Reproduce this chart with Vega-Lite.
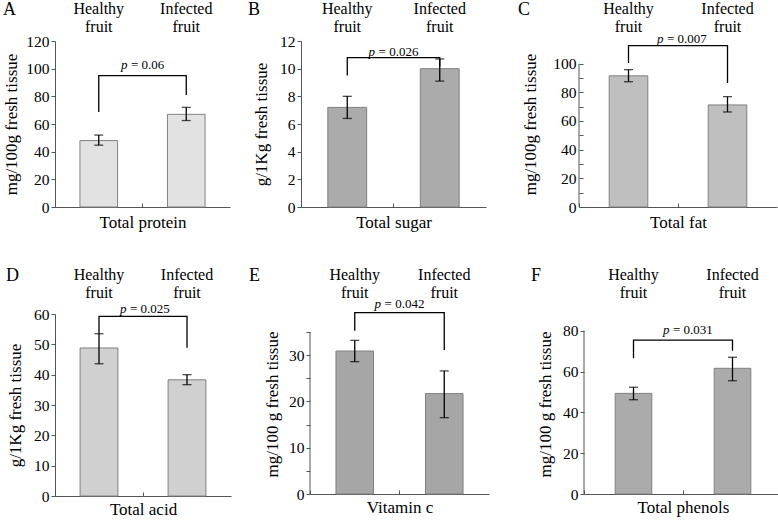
{
"$schema": "https://vega.github.io/schema/vega-lite/v6.json",
"padding": {"left": 2, "top": 0, "right": 0, "bottom": 0},
"config": {
 "font": "Liberation Serif",
 "view": {"stroke": null},
 "style": {"guide-label": {"font": "Liberation Serif"}, "guide-title": {"font": "Liberation Serif"}},
 "axis": {"domainColor": "#555", "tickColor": "#555", "labelFont": "Liberation Serif", "titleFont": "Liberation Serif", "labelFontSize": 15.5, "titleFontSize": 17, "titleFontWeight": "normal", "labelColor": "#000", "titleColor": "#000", "grid": false, "domainWidth": 1, "tickWidth": 1},
 "title": {"font": "Liberation Serif", "fontSize": 18, "fontWeight": "normal", "color": "#000"},
 "text": {"font": "Liberation Serif"}
},
"datasets": {
 "bars": [
  {"panel":"A","group":"Healthy fruit","mean":48,"lo":44.7,"hi":52},
  {"panel":"A","group":"Infected fruit","mean":67,"lo":62.5,"hi":72},
  {"panel":"B","group":"Healthy fruit","mean":7.2,"lo":6.4,"hi":8.0},
  {"panel":"B","group":"Infected fruit","mean":10.0,"lo":9.1,"hi":10.7},
  {"panel":"C","group":"Healthy fruit","mean":91.5,"lo":87.4,"hi":95.8},
  {"panel":"C","group":"Infected fruit","mean":71.2,"lo":66.3,"hi":77},
  {"panel":"D","group":"Healthy fruit","mean":48.8,"lo":43.6,"hi":53.5},
  {"panel":"D","group":"Infected fruit","mean":38.3,"lo":36.7,"hi":40},
  {"panel":"E","group":"Healthy fruit","mean":30.9,"lo":28.6,"hi":33.2},
  {"panel":"E","group":"Infected fruit","mean":21.7,"lo":16.5,"hi":26.6},
  {"panel":"F","group":"Healthy fruit","mean":49.3,"lo":46.2,"hi":52.3},
  {"panel":"F","group":"Infected fruit","mean":61.6,"lo":55.5,"hi":67}
 ],
 "axisline": [
  {"panel":"C","group":"Healthy fruit","y0":0,"y1":100},
  {"panel":"E","group":"Healthy fruit","y0":0,"y1":35},
  {"panel":"F","group":"Healthy fruit","y0":0,"y1":80}
 ],
 "brackets": [
  {"panel":"A","group":"Healthy fruit","y":68.7,"ord":1},{"panel":"A","group":"Healthy fruit","y":95,"ord":2},{"panel":"A","group":"Infected fruit","y":95,"ord":3},{"panel":"A","group":"Infected fruit","y":81,"ord":4},
  {"panel":"B","group":"Healthy fruit","y":9.5,"ord":1},{"panel":"B","group":"Healthy fruit","y":10.8,"ord":2},{"panel":"B","group":"Infected fruit","y":10.8,"ord":3},{"panel":"B","group":"Infected fruit","y":10.15,"ord":4},
  {"panel":"C","group":"Healthy fruit","y":100.5,"ord":1},{"panel":"C","group":"Healthy fruit","y":112.6,"ord":2},{"panel":"C","group":"Infected fruit","y":112.6,"ord":3},{"panel":"C","group":"Infected fruit","y":86.5,"ord":4},
  {"panel":"D","group":"Healthy fruit","y":53.5,"ord":1},{"panel":"D","group":"Healthy fruit","y":59.2,"ord":2},{"panel":"D","group":"Infected fruit","y":59.2,"ord":3},{"panel":"D","group":"Infected fruit","y":48.9,"ord":4},
  {"panel":"E","group":"Healthy fruit","y":35.3,"ord":1},{"panel":"E","group":"Healthy fruit","y":39.2,"ord":2},{"panel":"E","group":"Infected fruit","y":39.2,"ord":3},{"panel":"E","group":"Infected fruit","y":31.1,"ord":4},
  {"panel":"F","group":"Healthy fruit","y":66.5,"ord":1},{"panel":"F","group":"Healthy fruit","y":75.4,"ord":2},{"panel":"F","group":"Infected fruit","y":75.4,"ord":3},{"panel":"F","group":"Infected fruit","y":70.2,"ord":4}
 ],
 "ptext": [
  {"panel":"A","group":"Infected fruit","y":100,"label":"= 0.06"},
  {"panel":"B","group":"Infected fruit","y":10.95,"label":"= 0.026"},
  {"panel":"C","group":"Infected fruit","y":114.4,"label":"= 0.007"},
  {"panel":"D","group":"Infected fruit","y":60.3,"label":"= 0.025"},
  {"panel":"E","group":"Infected fruit","y":40.3,"label":"= 0.042"},
  {"panel":"F","group":"Infected fruit","y":78.4,"label":"= 0.031"}
 ]
},
"spacing": 35,
"vconcat": [
 {"spacing": 18, "hconcat": [
  {
   "width": 175, "height": 166,
   "title": {"text": "A", "anchor": "start", "frame": "group", "dx": -52, "offset": -19},
   "resolve": {"axis": {"x": "independent", "y": "independent"}},
   "layer": [
    {"data": {"name": "bars"}, "transform": [{"filter": "datum.panel=='A'"}],
     "mark": {"type": "bar", "width": {"band": 0.43}, "fill": "#e2e2e2", "stroke": "#808080", "strokeWidth": 1},
     "encoding": {
      "x": {"field": "group", "type": "nominal", "scale": {"domain": ["Healthy fruit","Infected fruit"], "paddingInner": 0, "paddingOuter": 0},
            "axis": {"orient": "bottom", "labels": false, "ticks": true, "tickSize": -4, "bandPosition": 0, "title": "Total protein", "titlePadding": 7}},
      "y": {"field": "mean", "type": "quantitative", "scale": {"domain": [0,120], "nice": false},
            "axis": {"values": [0,20,40,60,80,100,120], "tickSize": 4, "labelPadding": 2, "title": "mg/100g fresh tissue", "titlePadding": 5}}}},
    {"data": {"name": "bars"}, "transform": [{"filter": "datum.panel=='A'"}],
     "mark": {"type": "rule", "color": "#000", "strokeWidth": 1.3},
     "encoding": {
      "x": {"field": "group", "type": "nominal", "scale": {"domain": ["Healthy fruit","Infected fruit"], "paddingInner": 0, "paddingOuter": 0},
            "axis": {"orient": "top", "domain": false, "ticks": false, "tickSize": 0, "labelExpr": "split(datum.label,' ')", "labelFontSize": 16, "labelLineHeight": 18.5, "labelBaseline": "alphabetic", "labelPadding": 28, "labelAngle": 0, "labelOverlap": false, "title": null}},
      "y": {"field": "lo", "type": "quantitative", "scale": {"domain": [0,120], "nice": false}, "axis": null},
      "y2": {"field": "hi"}}},
    {"data": {"name": "bars"}, "transform": [{"filter": "datum.panel=='A'"}],
     "mark": {"type": "tick", "color": "#000", "size": 9, "thickness": 1.3},
     "encoding": {"x": {"field": "group", "type": "nominal", "axis": null}, "y": {"field": "lo", "type": "quantitative", "axis": null}}},
    {"data": {"name": "bars"}, "transform": [{"filter": "datum.panel=='A'"}],
     "mark": {"type": "tick", "color": "#000", "size": 9, "thickness": 1.3},
     "encoding": {"x": {"field": "group", "type": "nominal", "axis": null}, "y": {"field": "hi", "type": "quantitative", "axis": null}}},
    {"data": {"name": "brackets"}, "transform": [{"filter": "datum.panel=='A'"}],
     "mark": {"type": "line", "color": "#000", "strokeWidth": 1.3},
     "encoding": {"x": {"field": "group", "type": "nominal", "axis": null}, "y": {"field": "y", "type": "quantitative", "axis": null}, "order": {"field": "ord"}}},
    {"data": {"name": "ptext"}, "transform": [{"filter": "datum.panel=='A'"}],
     "mark": {"type": "text", "text": "p", "fontStyle": "italic", "font": "Liberation Serif", "fontSize": 13, "align": "left", "baseline": "alphabetic", "dx": -21.6},
     "encoding": {"x": {"field": "group", "type": "nominal", "bandPosition": 0, "axis": null}, "y": {"field": "y", "type": "quantitative", "axis": null}}},
    {"data": {"name": "ptext"}, "transform": [{"filter": "datum.panel=='A'"}],
     "mark": {"type": "text", "font": "Liberation Serif", "fontSize": 13, "align": "left", "baseline": "alphabetic", "dx": -11.6},
     "encoding": {"x": {"field": "group", "type": "nominal", "bandPosition": 0, "axis": null}, "y": {"field": "y", "type": "quantitative", "axis": null}, "text": {"field": "label"}}}
   ]
  },
  {"spacing": 32, "hconcat": [
   {
    "width": 185, "height": 166,
    "title": {"text": "B", "anchor": "start", "frame": "group", "dx": -53, "offset": -19},
    "resolve": {"axis": {"x": "independent", "y": "independent"}},
    "layer": [
     {"data": {"name": "bars"}, "transform": [{"filter": "datum.panel=='B'"}],
      "mark": {"type": "bar", "width": {"band": 0.42}, "fill": "#ababab", "stroke": "#808080", "strokeWidth": 1},
      "encoding": {
       "x": {"field": "group", "type": "nominal", "scale": {"domain": ["Healthy fruit","Infected fruit"], "paddingInner": 0, "paddingOuter": 0},
             "axis": {"orient": "bottom", "labels": false, "ticks": true, "tickSize": -4, "bandPosition": 0, "title": "Total sugar", "titlePadding": 7}},
       "y": {"field": "mean", "type": "quantitative", "scale": {"domain": [0,12], "nice": false},
             "axis": {"values": [0,2,4,6,8,10,12], "tickSize": 4, "labelPadding": 2, "title": "g/1Kg fresh tissue", "titlePadding": 9}}}},
     {"data": {"name": "bars"}, "transform": [{"filter": "datum.panel=='B'"}],
      "mark": {"type": "rule", "color": "#000", "strokeWidth": 1.3},
      "encoding": {
       "x": {"field": "group", "type": "nominal", "scale": {"domain": ["Healthy fruit","Infected fruit"], "paddingInner": 0, "paddingOuter": 0},
             "axis": {"orient": "top", "domain": false, "ticks": false, "tickSize": 0, "labelExpr": "split(datum.label,' ')", "labelFontSize": 16, "labelLineHeight": 18.5, "labelBaseline": "alphabetic", "labelPadding": 28, "labelAngle": 0, "labelOverlap": false, "title": null}},
       "y": {"field": "lo", "type": "quantitative", "scale": {"domain": [0,12], "nice": false}, "axis": null},
       "y2": {"field": "hi"}}},
     {"data": {"name": "bars"}, "transform": [{"filter": "datum.panel=='B'"}],
      "mark": {"type": "tick", "color": "#000", "size": 9, "thickness": 1.3},
      "encoding": {"x": {"field": "group", "type": "nominal", "axis": null}, "y": {"field": "lo", "type": "quantitative", "axis": null}}},
     {"data": {"name": "bars"}, "transform": [{"filter": "datum.panel=='B'"}],
      "mark": {"type": "tick", "color": "#000", "size": 9, "thickness": 1.3},
      "encoding": {"x": {"field": "group", "type": "nominal", "axis": null}, "y": {"field": "hi", "type": "quantitative", "axis": null}}},
     {"data": {"name": "brackets"}, "transform": [{"filter": "datum.panel=='B'"}],
      "mark": {"type": "line", "color": "#000", "strokeWidth": 1.3},
      "encoding": {"x": {"field": "group", "type": "nominal", "axis": null}, "y": {"field": "y", "type": "quantitative", "axis": null}, "order": {"field": "ord"}}},
     {"data": {"name": "ptext"}, "transform": [{"filter": "datum.panel=='B'"}],
      "mark": {"type": "text", "text": "p", "fontStyle": "italic", "font": "Liberation Serif", "fontSize": 13, "align": "left", "baseline": "alphabetic", "dx": -24.9},
      "encoding": {"x": {"field": "group", "type": "nominal", "bandPosition": 0, "axis": null}, "y": {"field": "y", "type": "quantitative", "axis": null}}},
     {"data": {"name": "ptext"}, "transform": [{"filter": "datum.panel=='B'"}],
      "mark": {"type": "text", "font": "Liberation Serif", "fontSize": 13, "align": "left", "baseline": "alphabetic", "dx": -14.9},
      "encoding": {"x": {"field": "group", "type": "nominal", "bandPosition": 0, "axis": null}, "y": {"field": "y", "type": "quantitative", "axis": null}, "text": {"field": "label"}}}
    ]
   },
   {
    "width": 198, "height": 166,
    "title": {"text": "C", "anchor": "start", "frame": "group", "dx": -61, "offset": -19},
    "resolve": {"axis": {"x": "independent", "y": "independent"}},
    "layer": [
     {"data": {"name": "bars"}, "transform": [{"filter": "datum.panel=='C'"}],
      "mark": {"type": "bar", "width": {"band": 0.39}, "fill": "#bfbfbf", "stroke": "#808080", "strokeWidth": 1},
      "encoding": {
       "x": {"field": "group", "type": "nominal", "scale": {"domain": ["Healthy fruit","Infected fruit"], "paddingInner": 0, "paddingOuter": 0},
             "axis": {"orient": "bottom", "labels": false, "ticks": true, "tickSize": -4, "bandPosition": 0, "title": "Total fat", "titlePadding": 7}},
       "y": {"field": "mean", "type": "quantitative", "scale": {"domain": [0,115.8], "nice": false},
             "axis": {"domain": false, "values": [0,10,20,30,40,50,60,70,80,90,100], "labelExpr": "datum.value % 20 === 0 ? datum.label : ''", "tickSize": -4, "labelPadding": 7, "title": "mg/100g fresh tissue", "titlePadding": 13}}}},
     {"data": {"name": "axisline"}, "transform": [{"filter": "datum.panel=='C'"}],
      "mark": {"type": "rule", "color": "#555", "strokeWidth": 1},
      "encoding": {"x": {"field": "group", "type": "nominal", "bandPosition": 0, "axis": null}, "y": {"field": "y0", "type": "quantitative", "axis": null}, "y2": {"field": "y1"}}},
     {"data": {"name": "bars"}, "transform": [{"filter": "datum.panel=='C'"}],
      "mark": {"type": "rule", "color": "#000", "strokeWidth": 1.3},
      "encoding": {
       "x": {"field": "group", "type": "nominal", "scale": {"domain": ["Healthy fruit","Infected fruit"], "paddingInner": 0, "paddingOuter": 0},
             "axis": {"orient": "top", "domain": false, "ticks": false, "tickSize": 0, "labelExpr": "split(datum.label,' ')", "labelFontSize": 16, "labelLineHeight": 18.5, "labelBaseline": "alphabetic", "labelPadding": 28, "labelAngle": 0, "labelOverlap": false, "title": null}},
       "y": {"field": "lo", "type": "quantitative", "scale": {"domain": [0,115.8], "nice": false}, "axis": null},
       "y2": {"field": "hi"}}},
     {"data": {"name": "bars"}, "transform": [{"filter": "datum.panel=='C'"}],
      "mark": {"type": "tick", "color": "#000", "size": 9, "thickness": 1.3},
      "encoding": {"x": {"field": "group", "type": "nominal", "axis": null}, "y": {"field": "lo", "type": "quantitative", "axis": null}}},
     {"data": {"name": "bars"}, "transform": [{"filter": "datum.panel=='C'"}],
      "mark": {"type": "tick", "color": "#000", "size": 9, "thickness": 1.3},
      "encoding": {"x": {"field": "group", "type": "nominal", "axis": null}, "y": {"field": "hi", "type": "quantitative", "axis": null}}},
     {"data": {"name": "brackets"}, "transform": [{"filter": "datum.panel=='C'"}],
      "mark": {"type": "line", "color": "#000", "strokeWidth": 1.3},
      "encoding": {"x": {"field": "group", "type": "nominal", "axis": null}, "y": {"field": "y", "type": "quantitative", "axis": null}, "order": {"field": "ord"}}},
     {"data": {"name": "ptext"}, "transform": [{"filter": "datum.panel=='C'"}],
      "mark": {"type": "text", "text": "p", "fontStyle": "italic", "font": "Liberation Serif", "fontSize": 13, "align": "left", "baseline": "alphabetic", "dx": -21},
      "encoding": {"x": {"field": "group", "type": "nominal", "bandPosition": 0, "axis": null}, "y": {"field": "y", "type": "quantitative", "axis": null}}},
     {"data": {"name": "ptext"}, "transform": [{"filter": "datum.panel=='C'"}],
      "mark": {"type": "text", "font": "Liberation Serif", "fontSize": 13, "align": "left", "baseline": "alphabetic", "dx": -11},
      "encoding": {"x": {"field": "group", "type": "nominal", "bandPosition": 0, "axis": null}, "y": {"field": "y", "type": "quantitative", "axis": null}, "text": {"field": "label"}}}
    ]
   }
  ]}
 ]},
 {"spacing": 18, "hconcat": [
  {
   "width": 176, "height": 182,
   "title": {"text": "D", "anchor": "start", "frame": "group", "dx": -49, "offset": -19},
   "resolve": {"axis": {"x": "independent", "y": "independent"}},
   "layer": [
    {"data": {"name": "bars"}, "transform": [{"filter": "datum.panel=='D'"}],
     "mark": {"type": "bar", "width": {"band": 0.43}, "fill": "#d0d0d0", "stroke": "#808080", "strokeWidth": 1},
     "encoding": {
      "x": {"field": "group", "type": "nominal", "scale": {"domain": ["Healthy fruit","Infected fruit"], "paddingInner": 0, "paddingOuter": 0},
            "axis": {"orient": "bottom", "labels": false, "ticks": true, "tickSize": -4, "bandPosition": 0, "title": "Total acid", "titlePadding": 5}},
      "y": {"field": "mean", "type": "quantitative", "scale": {"domain": [0,60], "nice": false},
            "axis": {"values": [0,10,20,30,40,50,60], "tickSize": 4, "labelPadding": 2, "title": "g/1Kg fresh tissue", "titlePadding": 9}}}},
    {"data": {"name": "bars"}, "transform": [{"filter": "datum.panel=='D'"}],
     "mark": {"type": "rule", "color": "#000", "strokeWidth": 1.3},
     "encoding": {
      "x": {"field": "group", "type": "nominal", "scale": {"domain": ["Healthy fruit","Infected fruit"], "paddingInner": 0, "paddingOuter": 0},
            "axis": {"orient": "top", "domain": false, "ticks": false, "tickSize": 0, "labelExpr": "split(datum.label,' ')", "labelFontSize": 16, "labelLineHeight": 18.5, "labelBaseline": "alphabetic", "labelPadding": 35, "labelAngle": 0, "labelOverlap": false, "title": null}},
      "y": {"field": "lo", "type": "quantitative", "scale": {"domain": [0,60], "nice": false}, "axis": null},
      "y2": {"field": "hi"}}},
    {"data": {"name": "bars"}, "transform": [{"filter": "datum.panel=='D'"}],
     "mark": {"type": "tick", "color": "#000", "size": 9, "thickness": 1.3},
     "encoding": {"x": {"field": "group", "type": "nominal", "axis": null}, "y": {"field": "lo", "type": "quantitative", "axis": null}}},
    {"data": {"name": "bars"}, "transform": [{"filter": "datum.panel=='D'"}],
     "mark": {"type": "tick", "color": "#000", "size": 9, "thickness": 1.3},
     "encoding": {"x": {"field": "group", "type": "nominal", "axis": null}, "y": {"field": "hi", "type": "quantitative", "axis": null}}},
    {"data": {"name": "brackets"}, "transform": [{"filter": "datum.panel=='D'"}],
     "mark": {"type": "line", "color": "#000", "strokeWidth": 1.3},
     "encoding": {"x": {"field": "group", "type": "nominal", "axis": null}, "y": {"field": "y", "type": "quantitative", "axis": null}, "order": {"field": "ord"}}},
    {"data": {"name": "ptext"}, "transform": [{"filter": "datum.panel=='D'"}],
     "mark": {"type": "text", "text": "p", "fontStyle": "italic", "font": "Liberation Serif", "fontSize": 13, "align": "left", "baseline": "alphabetic", "dx": -23},
     "encoding": {"x": {"field": "group", "type": "nominal", "bandPosition": 0, "axis": null}, "y": {"field": "y", "type": "quantitative", "axis": null}}},
    {"data": {"name": "ptext"}, "transform": [{"filter": "datum.panel=='D'"}],
     "mark": {"type": "text", "font": "Liberation Serif", "fontSize": 13, "align": "left", "baseline": "alphabetic", "dx": -13},
     "encoding": {"x": {"field": "group", "type": "nominal", "bandPosition": 0, "axis": null}, "y": {"field": "y", "type": "quantitative", "axis": null}, "text": {"field": "label"}}}
   ]
  },
  {"spacing": 42, "hconcat": [
   {
    "width": 179, "height": 180,
    "title": {"text": "E", "anchor": "start", "frame": "group", "dx": -61, "offset": -19},
    "resolve": {"axis": {"x": "independent", "y": "independent"}},
    "layer": [
     {"data": {"name": "bars"}, "transform": [{"filter": "datum.panel=='E'"}],
      "mark": {"type": "bar", "width": {"band": 0.42}, "fill": "#a6a6a6", "stroke": "#808080", "strokeWidth": 1},
      "encoding": {
       "x": {"field": "group", "type": "nominal", "scale": {"domain": ["Healthy fruit","Infected fruit"], "paddingInner": 0, "paddingOuter": 0},
             "axis": {"orient": "bottom", "labels": false, "ticks": true, "tickSize": -4, "bandPosition": 0, "title": "Vitamin c", "titlePadding": 5}},
       "y": {"field": "mean", "type": "quantitative", "scale": {"domain": [0,38.9], "nice": false},
             "axis": {"domain": false, "values": [0,5,10,15,20,25,30,35], "labelExpr": "datum.value % 10 === 0 ? datum.label : ''", "tickSize": 4, "labelPadding": 2, "title": "mg/100 g fresh tissue", "titlePadding": 7}}}},
     {"data": {"name": "axisline"}, "transform": [{"filter": "datum.panel=='E'"}],
      "mark": {"type": "rule", "color": "#555", "strokeWidth": 1},
      "encoding": {"x": {"field": "group", "type": "nominal", "bandPosition": 0, "axis": null}, "y": {"field": "y0", "type": "quantitative", "axis": null}, "y2": {"field": "y1"}}},
     {"data": {"name": "bars"}, "transform": [{"filter": "datum.panel=='E'"}],
      "mark": {"type": "rule", "color": "#000", "strokeWidth": 1.3},
      "encoding": {
       "x": {"field": "group", "type": "nominal", "scale": {"domain": ["Healthy fruit","Infected fruit"], "paddingInner": 0, "paddingOuter": 0},
             "axis": {"orient": "top", "domain": false, "ticks": false, "tickSize": 0, "labelExpr": "split(datum.label,' ')", "labelFontSize": 16, "labelLineHeight": 18.5, "labelBaseline": "alphabetic", "labelPadding": 35, "labelAngle": 0, "labelOverlap": false, "title": null}},
       "y": {"field": "lo", "type": "quantitative", "scale": {"domain": [0,38.9], "nice": false}, "axis": null},
       "y2": {"field": "hi"}}},
     {"data": {"name": "bars"}, "transform": [{"filter": "datum.panel=='E'"}],
      "mark": {"type": "tick", "color": "#000", "size": 9, "thickness": 1.3},
      "encoding": {"x": {"field": "group", "type": "nominal", "axis": null}, "y": {"field": "lo", "type": "quantitative", "axis": null}}},
     {"data": {"name": "bars"}, "transform": [{"filter": "datum.panel=='E'"}],
      "mark": {"type": "tick", "color": "#000", "size": 9, "thickness": 1.3},
      "encoding": {"x": {"field": "group", "type": "nominal", "axis": null}, "y": {"field": "hi", "type": "quantitative", "axis": null}}},
     {"data": {"name": "brackets"}, "transform": [{"filter": "datum.panel=='E'"}],
      "mark": {"type": "line", "color": "#000", "strokeWidth": 1.3},
      "encoding": {"x": {"field": "group", "type": "nominal", "axis": null}, "y": {"field": "y", "type": "quantitative", "axis": null}, "order": {"field": "ord"}}},
     {"data": {"name": "ptext"}, "transform": [{"filter": "datum.panel=='E'"}],
      "mark": {"type": "text", "text": "p", "fontStyle": "italic", "font": "Liberation Serif", "fontSize": 13, "align": "left", "baseline": "alphabetic", "dx": -24.9},
      "encoding": {"x": {"field": "group", "type": "nominal", "bandPosition": 0, "axis": null}, "y": {"field": "y", "type": "quantitative", "axis": null}}},
     {"data": {"name": "ptext"}, "transform": [{"filter": "datum.panel=='E'"}],
      "mark": {"type": "text", "font": "Liberation Serif", "fontSize": 13, "align": "left", "baseline": "alphabetic", "dx": -14.9},
      "encoding": {"x": {"field": "group", "type": "nominal", "bandPosition": 0, "axis": null}, "y": {"field": "y", "type": "quantitative", "axis": null}, "text": {"field": "label"}}}
    ]
   },
   {
    "width": 198, "height": 180,
    "title": {"text": "F", "anchor": "start", "frame": "group", "dx": -53, "offset": -19},
    "resolve": {"axis": {"x": "independent", "y": "independent"}},
    "layer": [
     {"data": {"name": "bars"}, "transform": [{"filter": "datum.panel=='F'"}],
      "mark": {"type": "bar", "width": {"band": 0.37}, "fill": "#ababab", "stroke": "#808080", "strokeWidth": 1},
      "encoding": {
       "x": {"field": "group", "type": "nominal", "scale": {"domain": ["Healthy fruit","Infected fruit"], "paddingInner": 0, "paddingOuter": 0},
             "axis": {"orient": "bottom", "labels": false, "ticks": true, "tickSize": -4, "bandPosition": 0, "title": "Total phenols", "titlePadding": 5}},
       "y": {"field": "mean", "type": "quantitative", "scale": {"domain": [0,88.2], "nice": false},
             "axis": {"domain": false, "values": [0,20,40,60,80], "tickSize": 4, "labelPadding": 2, "title": "mg/100 g fresh tissue", "titlePadding": 8}}}},
     {"data": {"name": "axisline"}, "transform": [{"filter": "datum.panel=='F'"}],
      "mark": {"type": "rule", "color": "#555", "strokeWidth": 1},
      "encoding": {"x": {"field": "group", "type": "nominal", "bandPosition": 0, "axis": null}, "y": {"field": "y0", "type": "quantitative", "axis": null}, "y2": {"field": "y1"}}},
     {"data": {"name": "bars"}, "transform": [{"filter": "datum.panel=='F'"}],
      "mark": {"type": "rule", "color": "#000", "strokeWidth": 1.3},
      "encoding": {
       "x": {"field": "group", "type": "nominal", "scale": {"domain": ["Healthy fruit","Infected fruit"], "paddingInner": 0, "paddingOuter": 0},
             "axis": {"orient": "top", "domain": false, "ticks": false, "tickSize": 0, "labelExpr": "split(datum.label,' ')", "labelFontSize": 16, "labelLineHeight": 18.5, "labelBaseline": "alphabetic", "labelPadding": 35, "labelAngle": 0, "labelOverlap": false, "title": null}},
       "y": {"field": "lo", "type": "quantitative", "scale": {"domain": [0,88.2], "nice": false}, "axis": null},
       "y2": {"field": "hi"}}},
     {"data": {"name": "bars"}, "transform": [{"filter": "datum.panel=='F'"}],
      "mark": {"type": "tick", "color": "#000", "size": 9, "thickness": 1.3},
      "encoding": {"x": {"field": "group", "type": "nominal", "axis": null}, "y": {"field": "lo", "type": "quantitative", "axis": null}}},
     {"data": {"name": "bars"}, "transform": [{"filter": "datum.panel=='F'"}],
      "mark": {"type": "tick", "color": "#000", "size": 9, "thickness": 1.3},
      "encoding": {"x": {"field": "group", "type": "nominal", "axis": null}, "y": {"field": "hi", "type": "quantitative", "axis": null}}},
     {"data": {"name": "brackets"}, "transform": [{"filter": "datum.panel=='F'"}],
      "mark": {"type": "line", "color": "#000", "strokeWidth": 1.3},
      "encoding": {"x": {"field": "group", "type": "nominal", "axis": null}, "y": {"field": "y", "type": "quantitative", "axis": null}, "order": {"field": "ord"}}},
     {"data": {"name": "ptext"}, "transform": [{"filter": "datum.panel=='F'"}],
      "mark": {"type": "text", "text": "p", "fontStyle": "italic", "font": "Liberation Serif", "fontSize": 13, "align": "left", "baseline": "alphabetic", "dx": -20},
      "encoding": {"x": {"field": "group", "type": "nominal", "bandPosition": 0, "axis": null}, "y": {"field": "y", "type": "quantitative", "axis": null}}},
     {"data": {"name": "ptext"}, "transform": [{"filter": "datum.panel=='F'"}],
      "mark": {"type": "text", "font": "Liberation Serif", "fontSize": 13, "align": "left", "baseline": "alphabetic", "dx": -10},
      "encoding": {"x": {"field": "group", "type": "nominal", "bandPosition": 0, "axis": null}, "y": {"field": "y", "type": "quantitative", "axis": null}, "text": {"field": "label"}}}
    ]
   }
  ]}
 ]}
]
}
